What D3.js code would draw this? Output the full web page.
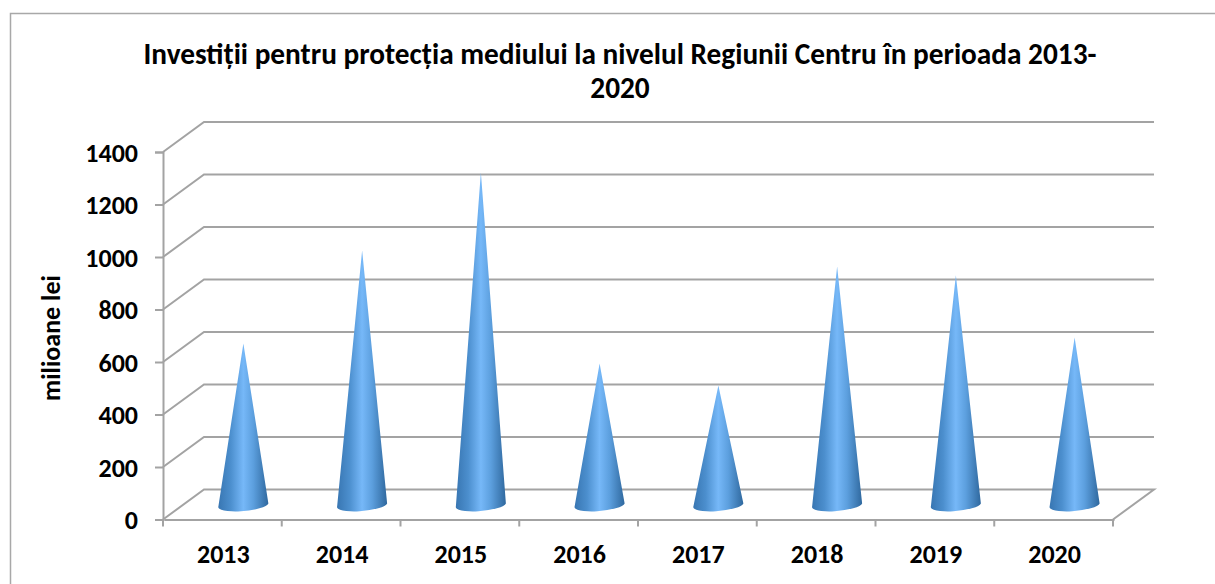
<!DOCTYPE html>
<html><head><meta charset="utf-8">
<script src="https://cdn.jsdelivr.net/npm/d3@7"></script>
<style>html,body{margin:0;background:#fff}svg{display:block}text{font-family:Carlito,Lato,"Open Sans",sans-serif;font-weight:700;fill:#000}</style>
</head><body><svg id="c" width="1215" height="584"></svg>
<script>
const categories=["2013","2014","2015","2016","2017","2018","2019","2020"];
const values=[613,968,1265,537,453,907,873,636];
const yTicks=[0,200,400,600,800,1000,1200,1400];
const titleLines=["Investiții pentru protecția mediului la nivelul Regiunii Centru în perioada 2013-","2020"];
const yLabel="milioane lei";

const svg=d3.select("#c");
const W=1215,H=584,gray="#a3a3a3";
const dx=41,dy=-30;
const x=d3.scaleBand().domain(categories).range([163,1113]);
const y=d3.scaleLinear().domain([0,1400]).range([519.5,152]);

svg.append("path").attr("d",`M10.5,${H}V13.5H${W}`).attr("fill","none").attr("stroke","#a8a8a8").attr("stroke-width",1.5);

const defs=svg.append("defs");
const g=defs.append("linearGradient").attr("id","cone").attr("x1",0).attr("x2",1).attr("y1",0).attr("y2",0);
[[0,"#3876b2"],[0.25,"#4c8fce"],[0.5,"#76b8f8"],[0.7,"#5c9fde"],[1,"#2f689e"]].forEach(s=>g.append("stop").attr("offset",s[0]).attr("stop-color",s[1]));

const grid=svg.append("g").attr("fill","none").attr("stroke",gray).attr("stroke-width",2);
yTicks.forEach(t=>{
  const py=y(t);
  if(t===0){
    grid.append("path").attr("d",`M${x.range()[0]},${py}L${x.range()[0]+dx},${py+dy}H${x.range()[1]+dx}L${x.range()[1]},${py}`);
  } else {
    grid.append("path").attr("d",`M${x.range()[0]},${py}L${x.range()[0]+dx},${py+dy}H${x.range()[1]+dx}`);
  }
});

const ay=svg.append("g").attr("transform","translate(163,0)").call(d3.axisLeft(y).tickValues(yTicks).tickSize(8).tickPadding(17).tickFormat(d3.format("d")));
ay.selectAll("text").style("font-size","26px").attr("dy","0.36em");
const ax=svg.append("g").attr("transform","translate(1,519.5)").call(d3.axisBottom(x).tickSize(0).tickPadding(25));
ax.selectAll(".tick text").style("font-size","26px").attr("dy","0.72em");
ax.selectAll(".tick line").remove();
d3.range(categories.length+1).forEach(i=>{
  const px=x.range()[0]+i*x.bandwidth()-1;
  ax.append("line").attr("x1",px).attr("x2",px).attr("y1",0).attr("y2",7);
});
svg.selectAll(".domain,.tick line").attr("stroke",gray).attr("stroke-width",2);
ax.selectAll("line").attr("stroke",gray).attr("stroke-width",2);

const baseY=y(0)+dy/2, rx=25, ry=6;
const cones=svg.append("g");
categories.forEach((c,i)=>{
  const cx=x(c)+x.bandwidth()/2+dx/2+0.5;
  const top=y(values[i])+dy/2;
  cones.append("path")
    .attr("d",`M${cx},${top}L${cx+rx},${baseY-1}A${rx},${ry} -5 0 1 ${cx-rx},${baseY+2}Z`)
    .attr("fill","url(#cone)");
});

svg.append("g").selectAll("text").data(titleLines).join("text")
  .attr("x",620).attr("y",(d,i)=>64+i*34).attr("text-anchor","middle").style("font-size","29.3px").text(d=>d);
svg.append("text").attr("transform","translate(60,338) rotate(-90)").attr("text-anchor","middle").style("font-size","26px").text(yLabel);
</script></body></html>
